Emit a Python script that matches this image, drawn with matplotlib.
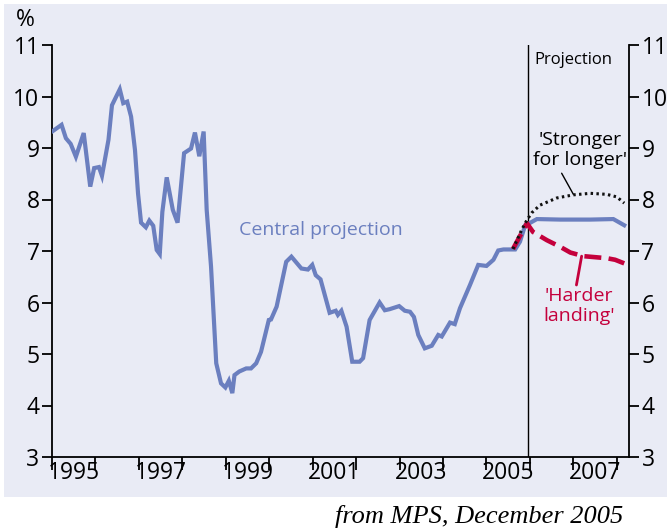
import numpy as np
import matplotlib
matplotlib.use("Agg")
import matplotlib.pyplot as plt
from matplotlib.patches import Rectangle

# data (decimal year, per cent)
central_years = [1995.02, 1995.22, 1995.32, 1995.43, 1995.55, 1995.73, 1995.88, 1995.97, 1996.08, 1996.15,
                 1996.30, 1996.38, 1996.56, 1996.64, 1996.73, 1996.82, 1996.91, 1996.98, 1997.05, 1997.16,
                 1997.24, 1997.33, 1997.41, 1997.48, 1997.54, 1997.64, 1997.78, 1997.89, 1998.04, 1998.20,
                 1998.29, 1998.39, 1998.49, 1998.56, 1998.66, 1998.78, 1998.89, 1998.99, 1999.07, 1999.15,
                 1999.20, 1999.31, 1999.47, 1999.58, 1999.70, 1999.81, 1999.99, 2000.04, 2000.17, 2000.39,
                 2000.51, 2000.74, 2000.89, 2000.99, 2001.07, 2001.18, 2001.39, 2001.53, 2001.58, 2001.66,
                 2001.78, 2001.91, 2002.08, 2002.16, 2002.31, 2002.54, 2002.66, 2002.77, 2002.99, 2003.12,
                 2003.24, 2003.33, 2003.43, 2003.58, 2003.74, 2003.89, 2003.97, 2004.16, 2004.27, 2004.39,
                 2004.62, 2004.81, 2005.00, 2005.16, 2005.27, 2005.39, 2005.66, 2005.77, 2005.89, 2005.99,
                 2006.16, 2006.70, 2007.39, 2007.92, 2008.17]
central_vals = [9.33, 9.45, 9.19, 9.08, 8.83, 9.29, 8.25, 8.61, 8.63, 8.46,
                9.16, 9.83, 10.14, 9.87, 9.90, 9.61, 8.96, 8.12, 7.55, 7.46,
                7.59, 7.49, 7.02, 6.94, 7.76, 8.43, 7.80, 7.55, 8.90, 8.99,
                9.30, 8.84, 9.32, 7.80, 6.70, 4.82, 4.43, 4.35, 4.48, 4.24,
                4.59, 4.66, 4.72, 4.72, 4.82, 5.04, 5.66, 5.67, 5.92, 6.79,
                6.89, 6.66, 6.64, 6.73, 6.53, 6.45, 5.80, 5.84, 5.76, 5.84,
                5.53, 4.85, 4.85, 4.92, 5.66, 6.00, 5.85, 5.87, 5.93, 5.84,
                5.82, 5.72, 5.37, 5.11, 5.16, 5.37, 5.34, 5.61, 5.58, 5.89,
                6.34, 6.73, 6.71, 6.83, 7.01, 7.03, 7.03, 7.18, 7.50, 7.54,
                7.62, 7.61, 7.61, 7.62, 7.50]

stronger_years = [2005.61, 2005.81, 2005.93, 2006.04, 2006.23, 2006.62, 2007.00, 2007.39, 2007.77, 2008.00, 2008.17]
stronger_vals = [7.04, 7.41, 7.60, 7.74, 7.89, 8.03, 8.09, 8.12, 8.10, 8.05, 7.93]

harder_years = [2005.61, 2005.93, 2006.07, 2006.39, 2006.70, 2006.93, 2007.23, 2007.50, 2007.77, 2007.96, 2008.17]
harder_vals = [7.04, 7.54, 7.37, 7.21, 7.08, 6.97, 6.90, 6.88, 6.86, 6.83, 6.76]

projection_start = 2005.96
year_ticks = list(range(1995, 2009))
year_labels = [1995, 1997, 1999, 2001, 2003, 2005, 2007]
y_ticks = list(range(3, 12))

blue = '#6b7fbf'
red = '#c4003c'
panel = '#e9ebf5'

plt.rcParams['font.family'] = ['Open Sans', 'DejaVu Sans']

fig = plt.figure(figsize=(6.71, 5.31), dpi=100)
fig.patch.set_facecolor('white')
fig.patches.append(Rectangle((4/671, 34/531), 663/671, 493/531, transform=fig.transFigure,
                             facecolor=panel, edgecolor='none', zorder=-10))

ax = fig.add_axes([52/671, 74/531, 577/671, 412/531])
ax.set_facecolor('none')

ax.plot(central_years, central_vals, color=blue, lw=3.0, solid_joinstyle='miter', zorder=3)
ax.plot(harder_years, harder_vals, color=red, lw=3.3, dashes=(3.7, 1.6), zorder=4)
ax.plot(stronger_years, stronger_vals, color='#111111', lw=2.2, dashes=(0.8, 1.1), zorder=5)
ax.axvline(projection_start, color='black', lw=1.0, zorder=2)

ax.set_xlim(1995.0, 2008.28)
ax.set_ylim(3, 11)

ax.spines['top'].set_visible(False)
for s in ['left', 'right', 'bottom']:
    ax.spines[s].set_linewidth(1.3)

ax.set_yticks(y_ticks)
ax.set_yticklabels([str(v) for v in y_ticks])
ax.tick_params(axis='y', which='both', direction='out', length=7, width=1.3,
               left=True, right=True, labelleft=True, labelright=True, labelsize=16.5, pad=2)

ax.set_xticks(year_ticks)
ax.set_xticklabels([])
ax.tick_params(axis='x', which='major', direction='out', length=9, width=1.3)
ax.set_xticks([y + 0.5 for y in year_labels], minor=True)
ax.set_xticklabels([str(y) for y in year_labels], minor=True)
ax.tick_params(axis='x', which='minor', length=0, labelsize=16.5, pad=3)

fig.text(25/671, 1 - 20/531, '%', fontsize=16.5, ha='center', va='center')

ax.text(2001.18, 7.40, 'Central projection', color=blue, fontsize=14, ha='center', va='center')
ax.text(2007.0, 10.71, 'Projection', fontsize=12, ha='center', va='center')
ax.text(2007.15, 8.96, "'Stronger\nfor longer'", fontsize=14, ha='center', va='center', linespacing=1.1)
ax.text(2007.13, 5.93, "'Harder\nlanding'", color=red, fontsize=14, ha='center', va='center', linespacing=1.1)
ax.annotate('', xy=(2007.00, 8.10), xytext=(2006.73, 8.51),
            arrowprops=dict(arrowstyle='-', color='black', lw=1.0, shrinkA=0, shrinkB=0))
ax.annotate('', xy=(2007.19, 6.90), xytext=(2007.07, 6.34),
            arrowprops=dict(arrowstyle='-', color=red, lw=2.0, shrinkA=0, shrinkB=0))

fig.text(623/671, 1 - 516/531, 'from MPS, December 2005', family='Liberation Serif',
         style='italic', fontsize=19, ha='right', va='center')

fig.savefig('out.png', dpi=100)
